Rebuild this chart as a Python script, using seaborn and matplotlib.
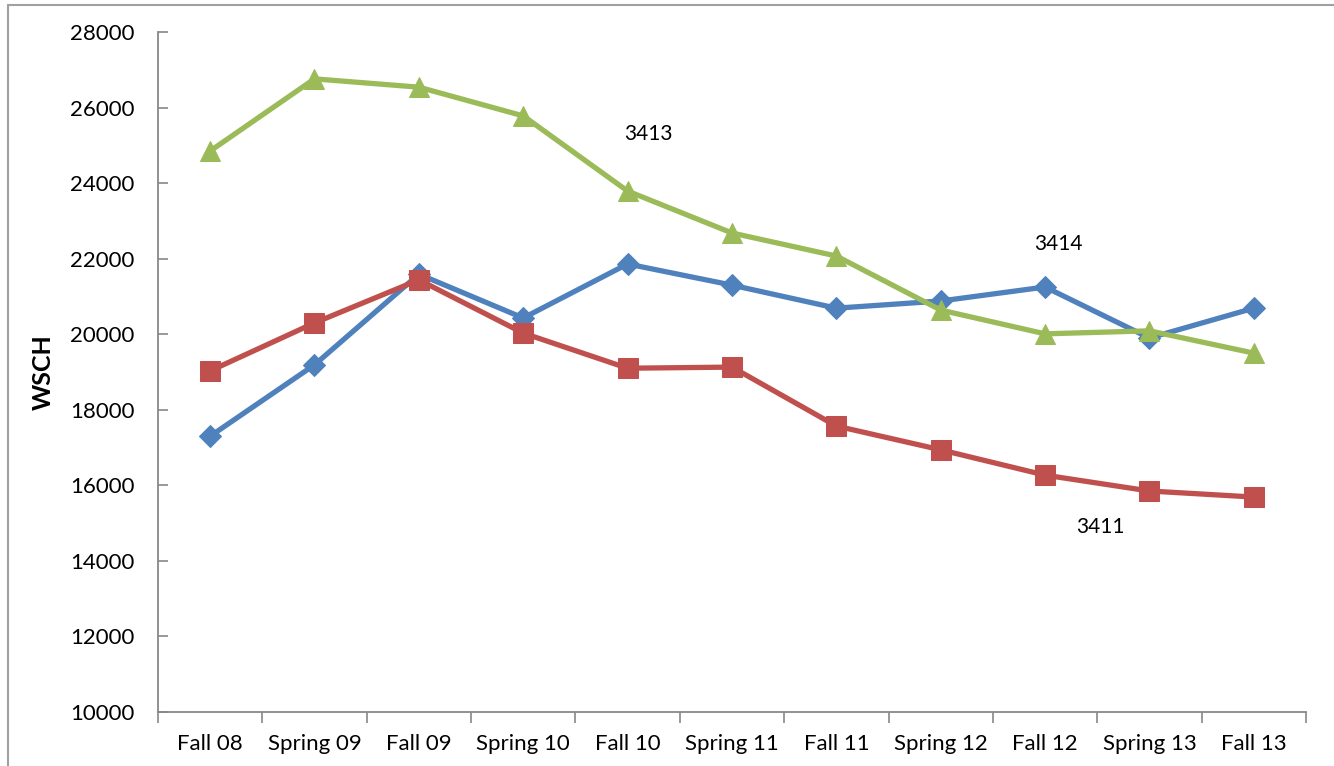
import pandas as pd
import numpy as np
import seaborn as sns
import matplotlib.pyplot as plt
from matplotlib.lines import Line2D
from matplotlib.ticker import MultipleLocator

sns.set_theme(style="white")
plt.rcParams['font.family'] = ['Lato', 'DejaVu Sans']
plt.rcParams['text.color'] = 'black'
plt.rcParams['axes.labelcolor'] = 'black'
plt.rcParams['xtick.color'] = 'black'
plt.rcParams['ytick.color'] = 'black'

terms = ['Fall 08', 'Spring 09', 'Fall 09', 'Spring 10', 'Fall 10', 'Spring 11',
         'Fall 11', 'Spring 12', 'Fall 12', 'Spring 13', 'Fall 13']
wsch_3414 = [17300, 19190, 21590, 20430, 21860, 21300, 20690, 20880, 21250, 19900, 20690]
wsch_3411 = [19030, 20300, 21440, 20030, 19100, 19130, 17570, 16940, 16270, 15850, 15690]
wsch_3413 = [24850, 26760, 26540, 25780, 23790, 22680, 22070, 20640, 20010, 20090, 19500]

series_names = ['3414', '3411', '3413']
colors = {'3414': '#4F81BD', '3411': '#C0504D', '3413': '#9BBB59'}
markers = {'3414': 'D', '3411': 's', '3413': '^'}
msizes = {'3414': 11, '3411': 14, '3413': 14}

df = pd.DataFrame({
    'Term': terms * 3,
    'Pos': list(range(len(terms))) * 3,
    'WSCH': wsch_3414 + wsch_3411 + wsch_3413,
    'Course': ['3414'] * len(terms) + ['3411'] * len(terms) + ['3413'] * len(terms),
})

fig = plt.figure(figsize=(13.34, 7.66), dpi=100)
ax = fig.add_axes([0.1184, 0.0705, 0.8606, 0.8877])

for name in series_names:
    sub = df[df['Course'] == name]
    sns.lineplot(data=sub, x='Pos', y='WSCH', ax=ax, color=colors[name],
                 marker=markers[name], markersize=msizes[name], linewidth=3.8,
                 markeredgecolor=colors[name], legend=False)

# series labels
ax.text(4.2, 25300, '3413', fontsize=15, ha='center', va='center')
ax.text(8.13, 22390, '3414', fontsize=15, ha='center', va='center')
ax.text(8.53, 14900, '3411', fontsize=15, ha='center', va='center')

ax.set_xlim(-0.5, len(terms) - 0.5)
ax.set_ylim(10000, 28000)
ax.yaxis.set_major_locator(MultipleLocator(2000))
ax.set_xticks(range(len(terms)))
ax.set_xticklabels(terms)
ax.set_xticks(np.arange(-0.5, len(terms), 1.0), minor=True)
ax.tick_params(axis='x', which='major', length=0, labelsize=16, pad=16)
ax.tick_params(axis='x', which='minor', length=8, width=1.2, color='#888888', direction='out', bottom=True)
ax.tick_params(axis='y', which='major', length=7, width=1.2, color='#888888', direction='in',
               left=True, labelsize=16, pad=17)

ax.set_xlabel('')
ax.set_ylabel('WSCH', fontsize=18, fontweight='bold')
ax.yaxis.set_label_coords(-0.09, 0.5)

for side in ['top', 'right']:
    ax.spines[side].set_visible(False)
for side in ['left', 'bottom']:
    ax.spines[side].set_color('#888888')
    ax.spines[side].set_linewidth(1.3)

# outer chart frame (partially visible)
fig.add_artist(Line2D([8 / 1334, 1.0], [1 - 5 / 766, 1 - 5 / 766], transform=fig.transFigure,
                      color='#A0A0A0', linewidth=1.5))
fig.add_artist(Line2D([8 / 1334, 8 / 1334], [0.0, 1 - 5 / 766], transform=fig.transFigure,
                      color='#A0A0A0', linewidth=1.5))

plt.savefig('out.png', dpi=100)
